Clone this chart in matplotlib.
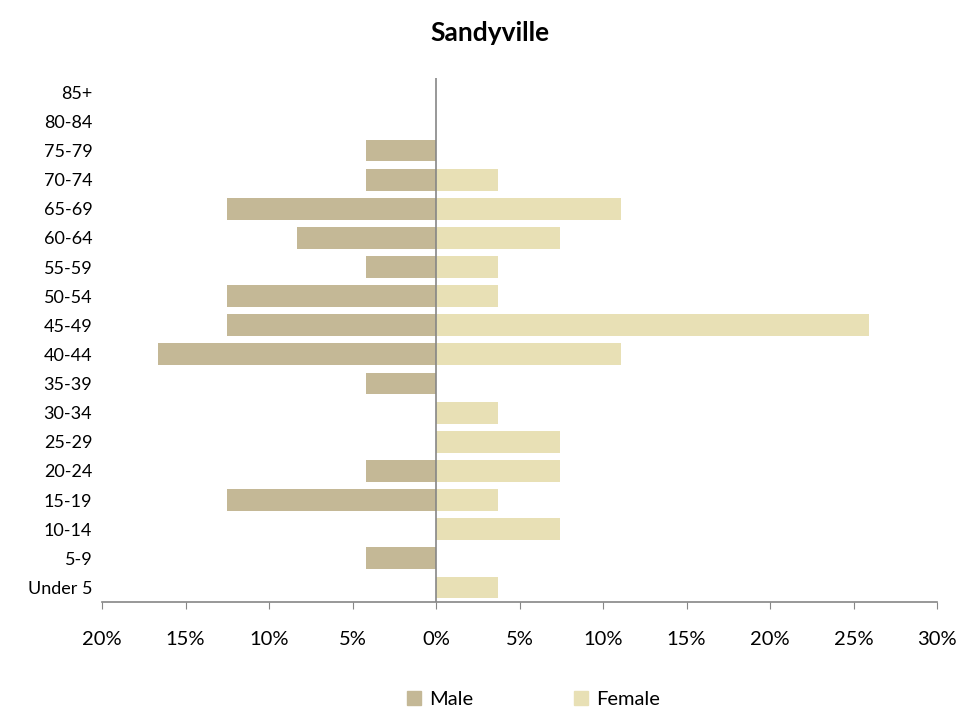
import matplotlib.pyplot as plt
import numpy as np
from matplotlib.ticker import FuncFormatter
from matplotlib.patches import Patch

plt.rcParams['font.family'] = ['Lato', 'DejaVu Sans']

# -----------------------
# Data (percent of each sex)
# -----------------------
age_groups = ['Under 5', '5-9', '10-14', '15-19', '20-24', '25-29', '30-34',
              '35-39', '40-44', '45-49', '50-54', '55-59', '60-64', '65-69',
              '70-74', '75-79', '80-84', '85+']
male = [0, 4.17, 0, 12.5, 4.17, 0, 0, 4.17, 16.67, 12.5, 12.5, 4.17,
        8.33, 12.5, 4.17, 4.17, 0, 0]
female = [3.7, 0, 7.4, 3.7, 7.4, 7.4, 3.7, 0, 11.1, 25.9, 3.7, 3.7,
          7.4, 11.1, 3.7, 0, 0, 0]

MALE_COLOR = '#C4B896'
FEMALE_COLOR = '#E8E0B5'

fig = plt.figure(figsize=(9.79, 7.13), dpi=100)
ax = fig.add_axes([0.1042, 0.1557, 0.8529, 0.7353])

y = np.arange(len(age_groups))
ax.barh(y, -np.array(male), height=0.75, color=MALE_COLOR)
ax.barh(y, female, height=0.75, color=FEMALE_COLOR)

ax.set_xlim(-20, 30)
ax.set_ylim(-0.5, len(age_groups) - 0.5)
ax.set_xticks(np.arange(-20, 31, 5))
ax.xaxis.set_major_formatter(FuncFormatter(lambda v, p: f"{abs(v):.0f}%"))
ax.set_yticks(y)
ax.set_yticklabels(age_groups)

for s in ['top', 'right', 'left']:
    ax.spines[s].set_visible(False)
ax.spines['bottom'].set_color('#868686')
ax.spines['bottom'].set_linewidth(1.2)
ax.axvline(0, color='#868686', linewidth=1.2)

ax.tick_params(axis='x', direction='out', length=5, color='#868686',
               pad=16, labelsize=14.5)
ax.tick_params(axis='y', length=0, pad=7, labelsize=13)

fig.suptitle('Sandyville', fontsize=19, fontweight='bold', y=0.97)

handles = [Patch(color=MALE_COLOR, label='Male'),
           Patch(color=FEMALE_COLOR, label='Female')]
fig.legend(handles=handles, loc='lower center', ncol=2, frameon=False,
           bbox_to_anchor=(0.545, -0.018), fontsize=14.5, handlelength=0.7,
           handleheight=0.7, handletextpad=0.4, columnspacing=5.0)

plt.savefig('out.png', dpi=100)
